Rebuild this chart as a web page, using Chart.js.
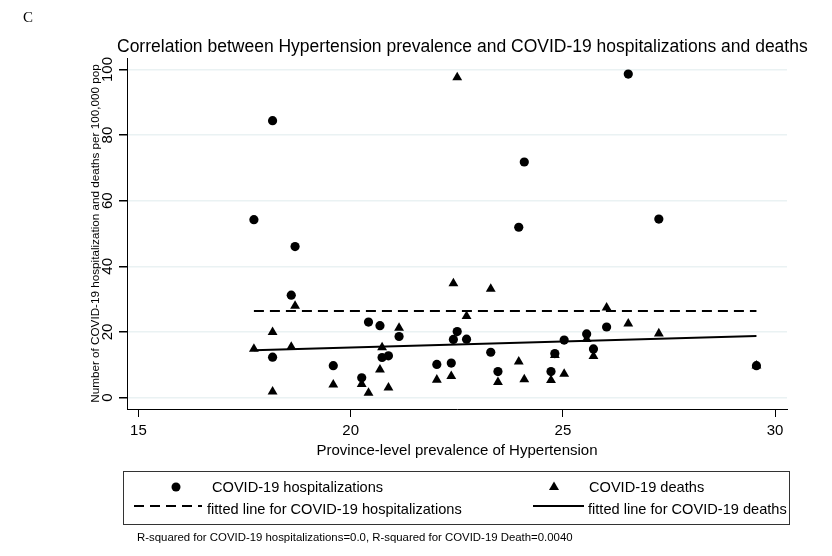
<!DOCTYPE html>
<html><head><meta charset="utf-8">
<script src="https://cdn.jsdelivr.net/npm/chart.js@4.4.0/dist/chart.umd.min.js"></script>
<style>
html,body{margin:0;padding:0;background:#fff;}
#wrap{position:relative;width:832px;height:556px;overflow:hidden;font-family:"Liberation Sans",Arial,sans-serif;color:#000;}
#c{position:absolute;left:0;top:0;}
.abs{position:absolute;white-space:nowrap;}
#legend{position:absolute;left:123px;top:471px;width:667px;height:54px;border:1px solid #333;box-sizing:border-box;}
#legend .t{position:absolute;font-size:14.6px;line-height:16px;white-space:nowrap;}
#legend svg{position:absolute;}
</style></head><body>
<div id="wrap">
<canvas id="c" width="832" height="556"></canvas>
<div class="abs" style="left:23px;top:8px;font-family:'Liberation Serif',serif;font-size:15px;line-height:18px;">C</div>
<div class="abs" id="title" style="left:117px;top:36px;font-size:17.5px;line-height:20px;">Correlation between Hypertension prevalence and COVID-19 hospitalizations and deaths</div>
<div id="legend">
  <svg style="left:46px;top:9px" width="12" height="12"><circle cx="6" cy="6" r="4.5" fill="#000"/></svg>
  <div class="t" style="left:88px;top:7px;">COVID-19 hospitalizations</div>
  <svg style="left:423px;top:8px" width="14" height="12"><polygon points="7,1.5 12,10 2,10" fill="#000"/></svg>
  <div class="t" style="left:465px;top:7px;">COVID-19 deaths</div>
  <svg style="left:10px;top:31px" width="68" height="6"><line x1="0" y1="3" x2="68" y2="3" stroke="#000" stroke-width="2" stroke-dasharray="10,6"/></svg>
  <div class="t" style="left:83px;top:29px;">fitted line for COVID-19 hospitalizations</div>
  <svg style="left:409px;top:31px" width="51" height="6"><line x1="0" y1="3" x2="51" y2="3" stroke="#000" stroke-width="2"/></svg>
  <div class="t" style="left:464px;top:29px;">fitted line for COVID-19 deaths</div>
</div>
<div class="abs" style="left:137px;top:530px;font-size:11.4px;line-height:14px;">R-squared for COVID-19 hospitalizations=0.0, R-squared for COVID-19 Death=0.0040</div>
</div>
<script>
// Province-level prevalence of hypertension (x) and outcomes per 100,000 pop
const prevalence = [17.72, 18.16, 18.16, 18.60, 18.69, 19.59, 20.26, 20.42, 20.69, 20.74, 20.89, 21.14, 22.03, 22.37, 22.42, 22.51, 22.73, 23.30, 23.47, 23.96, 24.09, 24.72, 24.81, 25.03, 25.56, 25.72, 26.03, 26.54, 27.26, 29.56];
const hospitalizations = [54.2, 84.4, 12.3, 31.2, 46.0, 9.7, 6.0, 23.0, 21.9, 12.2, 12.7, 18.6, 10.1, 10.5, 17.7, 20.1, 17.8, 13.8, 7.9, 51.9, 71.8, 7.9, 13.4, 17.5, 19.4, 14.8, 21.5, 98.6, 54.4, 9.7];
const deaths = [14.8, 19.9, 1.8, 15.4, 27.9, 3.9, 4.1, 1.4, 8.5, 15.3, 3.0, 21.2, 5.4, 6.5, 34.8, 97.6, 24.8, 33.1, 4.7, 10.9, 5.5, 5.3, 12.9, 7.2, 17.8, 12.6, 27.4, 22.5, 19.5, 9.7];
// fitted lines (end points)
const fitX = [17.72, 29.56];
const fitHosp = [26.4, 26.4];
const fitDeaths = [14.4, 18.75];
// tick labels
const xTicks = [15, 20, 25, 30];
const yTicks = [0, 20, 40, 60, 80, 100];

const FONT = "'Liberation Sans', Arial, sans-serif";
const pts = (xs, ys) => xs.map((x, i) => ({x: x, y: ys[i]}));

new Chart(document.getElementById('c'), {
  type: 'scatter',
  data: {
    datasets: [
      {label: 'COVID-19 hospitalizations', data: pts(prevalence, hospitalizations), pointStyle: 'circle', pointRadius: 4.6, backgroundColor: '#000', borderWidth: 0},
      {label: 'COVID-19 deaths', data: pts(prevalence, deaths), pointStyle: 'triangle', pointRadius: 5.7, backgroundColor: '#000', borderWidth: 0},
      {label: 'fitted line for COVID-19 hospitalizations', data: pts(fitX, fitHosp), showLine: true, pointRadius: 0, borderColor: '#000', borderWidth: 2, borderDash: [10, 6]},
      {label: 'fitted line for COVID-19 deaths', data: pts(fitX, fitDeaths), showLine: true, pointRadius: 0, borderColor: '#000', borderWidth: 2}
    ]
  },
  options: {
    responsive: false, animation: false, events: [], devicePixelRatio: 1,
    layout: {padding: {left: 89, right: 45, top: 58, bottom: 96.5}},
    plugins: {legend: {display: false}, title: {display: false}, tooltip: {enabled: false}},
    scales: {
      x: {
        type: 'linear', position: 'bottom', min: 14.73, max: 30.28,
        afterBuildTicks: s => { s.ticks = xTicks.map(v => ({value: v})); },
        afterFit: s => { s.height = 50.5; },
        ticks: {font: {family: FONT, size: 15}, color: '#000', padding: 5, maxRotation: 0, autoSkip: false},
        grid: {drawOnChartArea: false, tickLength: 8, tickColor: '#000', color: '#000'},
        border: {color: '#000', width: 1},
        title: {display: true, text: 'Province-level prevalence of Hypertension', font: {family: FONT, size: 15}, color: '#000', padding: 0}
      },
      y: {
        type: 'linear', min: -3.5, max: 103.5,
        afterBuildTicks: s => { s.ticks = yTicks.map(v => ({value: v})); },
        afterFit: s => { s.width = 38; },
        ticks: {font: {family: FONT, size: 15}, color: '#000', minRotation: 90, maxRotation: 90, crossAlign: 'center', padding: -1.5, autoSkip: false},
        grid: {color: '#eaf2f3', lineWidth: 1.5, tickLength: 8, tickColor: '#000'},
        border: {color: '#000', width: 1},
        title: {display: true, text: 'Number of COVID-19 hospitalization and deaths per 100,000 pop', font: {family: FONT, size: 11.7}, color: '#000', padding: 0}
      }
    }
  }
});
</script>
</body></html>
